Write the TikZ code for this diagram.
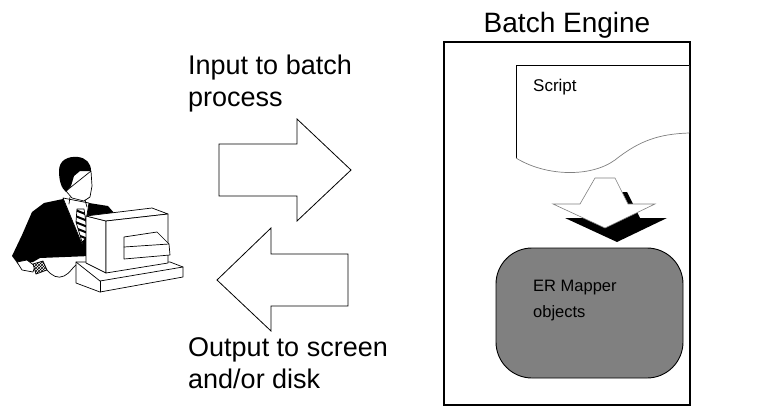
\documentclass[tikz,border=0pt]{standalone}
\usepackage{fontspec}
\setmainfont{Liberation Sans}
\usetikzlibrary{patterns}
\begin{document}
\begin{tikzpicture}[x=1pt,y=-1pt,
  biglabel/.style={font=\fontsize{27}{32}\selectfont, align=left, inner sep=0pt, anchor=north west},
  smalllabel/.style={font=\fontsize{16.5}{26}\selectfont, align=left, inner sep=0pt, anchor=north west},
  fatarrow/.style={draw=black, line width=0.8pt, fill=white, line join=miter},
  ink/.style={line width=0.7pt, line join=round, line cap=round},
]
\useasboundingbox (0,0) rectangle (775,412);

% ---------------- user at the workstation ----------------
% slab under the monitor
\draw[ink, fill=white] (76,262) -- (76,283) -- (100,292) -- (183,277) -- (183,267) -- (170,262) -- cycle;
\draw[ink] (76,262) -- (100,281) -- (183,267);
\draw[ink] (100,281) -- (100,292);
% suit
\fill[black] (63,199) -- (44,203) -- (32,212) -- (22,235) -- (12,256) -- (18,264)
  -- (33,262) -- (40,258) -- (90,256) -- (115,214) -- (108,206) -- (89,203) -- cycle;
% shirt collar
\draw[ink, fill=white] (63,198) -- (89,203) -- (82,244) -- cycle;
% striped tie
\begin{scope}
  \clip (77,209) -- (84,209) -- (88,236) -- (82,242) -- (76,222) -- cycle;
  \fill[white] (70,200) rectangle (95,250);
  \foreach \k in {0,...,7} \draw[line width=2pt] (68,{201+6*\k}) -- (95,{212+6*\k});
\end{scope}
\draw[ink] (77,209) -- (84,209) -- (88,236) -- (82,242) -- (76,222) -- cycle;
% face and hair
\draw[ink, fill=white] (66,191) -- (91,171) -- (92,186) -- (90,197) -- (84,201) -- (72,198) -- cycle;
\draw[ink] (70,197) -- (69,204);
\draw[ink] (85,200) -- (87,207);
\fill[black] (59,171) .. controls (59,160) and (68,156) .. (78,157)
  .. controls (86,158) and (91,163) .. (91,171)
  -- (80,171) -- (74,176) -- (71,186) -- (66,192)
  .. controls (61,188) and (59,180) .. cycle;
% hand on the mouse
\draw[ink, fill=white] (17,262) -- (27,260) -- (35,266) -- (33,272) -- (22,270) -- cycle;
% mouse and its cable
\draw[ink, fill=white] (33,264) -- (43,261) -- (47,270) -- (36,274) -- cycle;
\fill[pattern=crosshatch] (33,264) -- (43,261) -- (47,270) -- (36,274) -- cycle;
\draw[ink] (47,270) .. controls (52,276) and (58,279) .. (64,276) .. controls (70,273) and (72,268) .. (76,265);
% monitor: left side, top and front faces
\draw[ink, fill=white] (86,216) -- (106,221) -- (106,273) -- (86,263) -- cycle;
\draw[ink, fill=white] (86,216) -- (152,208) -- (168,214) -- (106,221) -- cycle;
\draw[ink, fill=white] (106,221) -- (168,214) -- (168,263) -- (106,273) -- cycle;
% disk drive on the front face
\draw[ink, fill=white] (124,237) -- (157,232) -- (169,244) -- (170,255) -- (124,259) -- cycle;
\draw[ink] (124,247) -- (169,244);

% ---------------- labels ----------------
\node[biglabel] (inlabel) at (188,55) {Input to batch\\process};
\node[biglabel] (outlabel) at (188,337) {Output to screen\\and/or disk};

% ---------------- transfer arrows ----------------
\draw[fatarrow] (219,144) -- (297,144) -- (297,119) -- (351,170) -- (297,221) -- (297,196) -- (219,196) -- cycle;
\draw[fatarrow] (217,280) -- (271,228) -- (271,254) -- (348,254) -- (348,306) -- (271,306) -- (271,331) -- cycle;

% ---------------- batch engine ----------------
\coordinate (boxnw) at (444,42);
\coordinate (boxse) at (690,405);
\draw[line width=1.8pt] (boxnw) rectangle (boxse);
\node[font=\fontsize{28}{32}\selectfont, inner sep=0pt, anchor=base] (title) at (567,33) {Batch Engine};

% script sheet with wavy lower edge
\fill[white] (516,158) -- (516,65) -- (689,65) -- (689,133)
  .. controls (660,134) and (640,140) .. (615,160)
  .. controls (590,178) and (545,176) .. (516,158) -- cycle;
\draw[line width=0.9pt] (516,158) -- (516,65) -- (689,65);
\draw[line width=0.7pt, gray] (516,158) .. controls (545,176) and (590,178) .. (615,160)
  .. controls (640,140) and (660,134) .. (689,133);
\node[font=\fontsize{17}{20}\selectfont, inner sep=0pt, anchor=base west] (script) at (533,91) {Script};

% block arrow with its shadow
\fill[black] (607,192) -- (627,192) -- (640,218) -- (667,218) -- (617,242) -- (565,218) -- (592,218) -- cycle;
\draw[line width=0.6pt, gray, fill=white] (595,178) -- (615,178) -- (628,204) -- (655,204) -- (605,228) -- (553,204) -- (580,204) -- cycle;

% object container
\draw[line width=0.9pt, fill=gray, rounded corners=36pt] (496,248) rectangle (683,378);
\node[smalllabel] (objects) at (533,280) {ER Mapper\\objects};
\end{tikzpicture}
\end{document}
